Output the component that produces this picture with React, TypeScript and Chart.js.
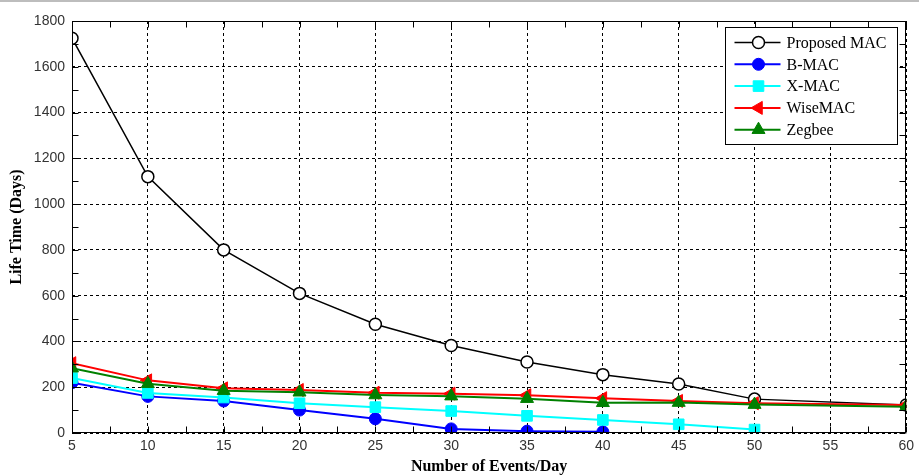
import React, { useEffect, useRef } from "react";
import { Chart, registerables } from "chart.js";

Chart.register(...registerables);

const xValues = [5, 10, 15, 20, 25, 30, 35, 40, 45, 50, 55, 60];
const proposedMAC = [1725, 1120, 800, 610, 475, 382, 310, 255, 214, 148, null, 122];
const bMAC = [220, 160, 140, 100, 62, 18, 8, 5, null, null, null, null];
const xMAC = [240, 175, 155, 130, 113, 96, 75, 57, 38, 15, null, null];
const wiseMAC = [305, 230, 195, 188, 176, 172, 165, 152, 140, 130, null, 122];
const zegbee = [283, 215, 185, 178, 166, 161, 150, 132, 133, 124, null, 115];
const seriesNames = ["Proposed MAC", "B-MAC", "X-MAC", "WiseMAC", "Zegbee"];
const xTickStep = 5;
const yTickStep = 200;

const toPoints = (arr: (number | null)[]) =>
  xValues.map((x, i) => ({ x, y: arr[i] }));

type Style = {
  color: string;
  fill: string;
  pointStyle: string;
  radius: number;
  rotation: number;
  lineWidth: number;
};

const styles: Style[] = [
  { color: "#000000", fill: "#ffffff", pointStyle: "circle", radius: 6, rotation: 0, lineWidth: 1.5 },
  { color: "#0000ff", fill: "#0000ff", pointStyle: "circle", radius: 6, rotation: 0, lineWidth: 2 },
  { color: "#00ffff", fill: "#00ffff", pointStyle: "rect", radius: 7.5, rotation: 0, lineWidth: 2 },
  { color: "#ff0000", fill: "#ff0000", pointStyle: "triangle", radius: 7.5, rotation: -90, lineWidth: 2 },
  { color: "#008000", fill: "#008000", pointStyle: "triangle", radius: 7.5, rotation: 0, lineWidth: 2 },
];

function drawMarker(ctx: CanvasRenderingContext2D, s: Style, x: number, y: number) {
  ctx.save();
  ctx.fillStyle = s.fill;
  ctx.strokeStyle = s.color;
  ctx.lineWidth = s.pointStyle === "circle" && s.fill === "#ffffff" ? 1.5 : 1;
  ctx.beginPath();
  const r = s.radius;
  if (s.pointStyle === "circle") {
    ctx.arc(x, y, r, 0, Math.PI * 2);
  } else if (s.pointStyle === "rect") {
    const h = Math.SQRT1_2 * r;
    ctx.rect(x - h, y - h, 2 * h, 2 * h);
  } else {
    let rad = (s.rotation * Math.PI) / 180;
    ctx.moveTo(x + Math.sin(rad) * r, y - Math.cos(rad) * r);
    rad += (2 * Math.PI) / 3;
    ctx.lineTo(x + Math.sin(rad) * r, y - Math.cos(rad) * r);
    rad += (2 * Math.PI) / 3;
    ctx.lineTo(x + Math.sin(rad) * r, y - Math.cos(rad) * r);
    ctx.closePath();
  }
  ctx.fill();
  ctx.stroke();
  ctx.restore();
}

const framePlugin = {
  id: "framePlugin",
  beforeDraw(chart: any) {
    const ctx = chart.ctx as CanvasRenderingContext2D;
    ctx.save();
    ctx.fillStyle = "#ffffff";
    ctx.fillRect(0, 0, chart.width, chart.height);
    ctx.fillStyle = "#bdbdbd";
    ctx.fillRect(0, 0, chart.width, 2);
    ctx.restore();
  },
  afterDatasetsDraw(chart: any) {
    const ctx = chart.ctx as CanvasRenderingContext2D;
    const { left, right, top, bottom } = chart.chartArea;
    const xs = chart.scales.x;
    const ys = chart.scales.y;
    ctx.save();
    ctx.strokeStyle = "#000";
    ctx.lineWidth = 1;
    const L = Math.round(left) + 0.5;
    const R = Math.round(right) - 0.5;
    const T = Math.round(top) + 0.5;
    const B = Math.round(bottom) - 0.5;
    ctx.strokeRect(L, T, R - L, B - T);
    const tl = 6;
    ctx.beginPath();
    for (let v = xs.min; v <= xs.max + 1e-6; v += xTickStep / 2) {
      const px = Math.round(xs.getPixelForValue(v)) + 0.5;
      ctx.moveTo(px, B);
      ctx.lineTo(px, B - tl);
      ctx.moveTo(px, T);
      ctx.lineTo(px, T + tl);
    }
    for (let v = ys.min; v <= ys.max + 1e-6; v += yTickStep / 2) {
      const py = Math.round(ys.getPixelForValue(v)) + 0.5;
      ctx.moveTo(L, py);
      ctx.lineTo(L + tl, py);
      ctx.moveTo(R, py);
      ctx.lineTo(R - tl, py);
    }
    ctx.stroke();

    // legend
    const bw = 172;
    const bh = 117;
    const bx = Math.round(right) - 9 - bw + 0.5;
    const by = Math.round(top) + 6 + 0.5;
    ctx.fillStyle = "#ffffff";
    ctx.fillRect(bx, by, bw, bh);
    ctx.strokeStyle = "#000";
    ctx.lineWidth = 1;
    ctx.strokeRect(bx, by, bw, bh);
    ctx.font = "16px 'Liberation Serif', 'DejaVu Serif', serif";
    ctx.textBaseline = "middle";
    ctx.textAlign = "left";
    seriesNames.forEach((name, i) => {
      const s = styles[i];
      const cy = by + 15 + i * 21.8;
      ctx.beginPath();
      ctx.strokeStyle = s.color;
      ctx.lineWidth = s.lineWidth;
      ctx.moveTo(bx + 9, cy);
      ctx.lineTo(bx + 55, cy);
      ctx.stroke();
      drawMarker(ctx, s, bx + 33, cy);
      ctx.fillStyle = "#000";
      ctx.fillText(name, bx + 61, cy + 1);
    });
    ctx.restore();
  },
};

export default function App() {
  const ref = useRef<HTMLCanvasElement | null>(null);
  useEffect(() => {
    document.body.style.margin = "0";
    const canvas = ref.current;
    if (!canvas) return;
    const allSeries = [proposedMAC, bMAC, xMAC, wiseMAC, zegbee];
    const datasets = allSeries.map((arr, i) => {
      const s = styles[i];
      return {
        label: seriesNames[i],
        data: toPoints(arr),
        borderColor: s.color,
        backgroundColor: s.fill,
        borderWidth: s.lineWidth,
        pointStyle: s.pointStyle,
        pointRadius: s.radius,
        pointRotation: s.rotation,
        pointBackgroundColor: s.fill,
        pointBorderColor: s.color,
        pointBorderWidth: i === 0 ? 1.5 : 1,
        spanGaps: true,
        tension: 0,
        order: allSeries.length - 1 - i,
      };
    });
    const chart = new Chart(canvas, {
      type: "line",
      data: { datasets } as any,
      plugins: [framePlugin],
      options: {
        animation: false,
        responsive: false,
        maintainAspectRatio: false,
        layout: { padding: { top: 21, right: 10, left: 0, bottom: 0 } },
        plugins: { legend: { display: false }, tooltip: { enabled: false } },
        scales: {
          x: {
            type: "linear",
            min: 5,
            max: 60,
            afterFit: (scale: any) => {
              scale.height = 43;
            },
            ticks: {
              stepSize: xTickStep,
              padding: 5,
              color: "#333",
              font: { family: "'Liberation Sans', Arial, sans-serif", size: 14 },
              maxRotation: 0,
              callback: (v: any) => String(v),
            },
            grid: { color: "#000", lineWidth: 1, drawTicks: false },
            border: { display: false, dash: [3, 3] },
            title: {
              display: true,
              text: "Number of Events/Day",
              color: "#000",
              font: { family: "'Liberation Serif', 'Times New Roman', serif", size: 16, weight: "bold" },
              padding: { top: 0, bottom: 0 },
            },
          },
          y: {
            type: "linear",
            min: 0,
            max: 1800,
            afterFit: (scale: any) => {
              scale.width = 72;
            },
            ticks: {
              stepSize: yTickStep,
              padding: 7,
              color: "#333",
              font: { family: "'Liberation Sans', Arial, sans-serif", size: 14 },
              callback: (v: any) => String(v),
            },
            grid: { color: "#000", lineWidth: 1, drawTicks: false },
            border: { display: false, dash: [3, 3] },
            title: {
              display: true,
              text: "Life Time (Days)",
              color: "#000",
              font: { family: "'Liberation Serif', 'Times New Roman', serif", size: 16, weight: "bold" },
              padding: { top: 7, bottom: 0 },
            },
          },
        },
      } as any,
    });
    return () => chart.destroy();
  }, []);
  return <canvas ref={ref} width={919} height={476} style={{ display: "block", width: 919, height: 476 }} />;
}
